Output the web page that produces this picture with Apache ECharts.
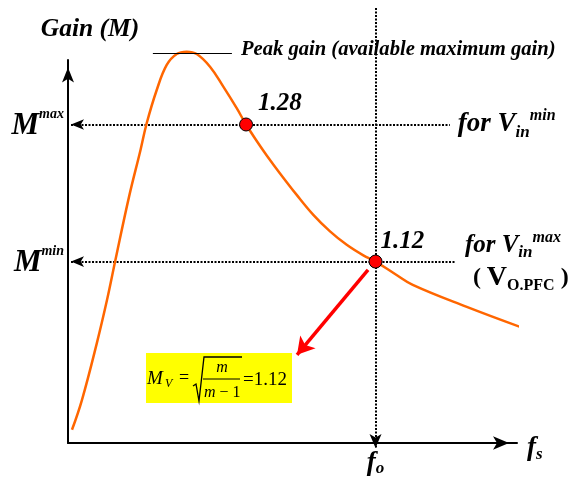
<!DOCTYPE html>
<html><head><meta charset="utf-8">
<script src="https://cdn.jsdelivr.net/npm/echarts@6/dist/echarts.min.js"></script>
<style>html,body{margin:0;padding:0;background:#fff}#c{width:574px;height:477px}</style>
</head><body><div id="c"></div>
<script>
// Normalized switching frequency (fs / fo) and gain M of the resonant tank curve
const curveX    = [0.013, 0.0455, 0.094, 0.127, 0.153, 0.1984, 0.2358, 0.2559, 0.2885, 0.321, 0.3535, 0.386, 0.4185, 0.4618, 0.505, 0.5486, 0.579, 0.6137, 0.6462, 0.6894, 0.7437, 0.7977, 0.852, 0.9063, 0.9603, 1.0, 1.0634, 1.121, 1.2967, 1.4787];
const curveGain = [0.9236, 0.9586, 1.0251, 1.0753, 1.1197, 1.1955, 1.2503, 1.2815, 1.3203, 1.3495, 1.3623, 1.365, 1.3623, 1.3475, 1.3242, 1.299, 1.28, 1.2608, 1.2439, 1.2229, 1.1978, 1.1745, 1.1552, 1.1395, 1.1272, 1.12, 1.1055, 1.0928, 1.0671, 1.0426];
// Operating points: Mmax (Vin min) and Mmin (Vin max) at fo
const pointX    = [0.579, 1.0];
const pointGain = [1.28, 1.12];
const pointText = ['1.28', '1.12'];
// Peak gain reference
const peakGain  = 1.3635;
const peakSpan  = [0.276, 0.533];
// Guide line extents
const guideStart  = 0.0098;
const guideEnd    = [1.2415, 1.258];
const foValue     = 1.0;
const axisRangeX  = [0, 1.46];
const axisRangeY  = [0.9, 1.355];
const plotTopY    = 1.416;
const foArrowEnd  = 0.9023;
// Red pointer from the fo point to the formula
const pointerFrom = [0.9756, 1.1103];
const pointerTo   = [0.7447, 1.0111];

const SERIF = '"Liberation Serif", "Times New Roman", serif';
const bi = (size, extra) => Object.assign({fontFamily: SERIF, fontSize: size, fontWeight: 'bold', fontStyle: 'italic', color: '#000'}, extra || {});

const chart = echarts.init(document.getElementById('c'), null, {renderer: 'canvas'});

const dotted = {color: '#000', width: 2, type: [2, 1.5]};
const invisible = {color: 'rgba(0,0,0,0)', width: 0};

const markRich = {
  M: bi(31, {lineHeight: 34, verticalAlign: 'bottom'}),
  sup: bi(14, {lineHeight: 18, verticalAlign: 'top'})
};
const forRich = {
  a: bi(27, {lineHeight: 34}),
  sub: bi(17, {lineHeight: 20, verticalAlign: 'bottom'}),
  sup: bi(16, {lineHeight: 16, verticalAlign: 'top'}),
  a2: bi(25, {lineHeight: 32}),
  sp: {width: 8, lineHeight: 32},
  p: {fontFamily: SERIF, fontSize: 24, fontWeight: 'bold', color: '#000', lineHeight: 32},
  V: {fontFamily: SERIF, fontSize: 28, fontWeight: 'bold', color: '#000', lineHeight: 32},
  sub2: {fontFamily: SERIF, fontSize: 16, fontWeight: 'bold', color: '#000', lineHeight: 18, verticalAlign: 'bottom'}
};

const option = {
  animation: false,
  backgroundColor: '#fff',
  grid: [
    {left: 68, right: 57, top: 8, bottom: 27},
    {left: 68, right: 57, top: 60, bottom: 27}
  ],
  xAxis: [
    {gridIndex: 0, type: 'value', min: axisRangeX[0], max: axisRangeX[1], show: false},
    {gridIndex: 1, type: 'value', min: axisRangeX[0], max: axisRangeX[1],
     axisLine: {show: true, symbol: ['none', 'arrow'], symbolSize: [10, 16], symbolOffset: [0, -8], lineStyle: {color: '#000', width: 2}},
     axisTick: {show: false}, splitLine: {show: false},
     axisLabel: {customValues: [foValue], margin: 6, formatter: () => '{f|f}{o|o}',
       rich: {f: bi(27, {lineHeight: 28}), o: bi(17, {lineHeight: 16, verticalAlign: 'bottom'})}},
     name: '{f|f}{s|s}', nameLocation: 'end', nameGap: 10,
     nameTextStyle: {rich: {f: bi(27, {lineHeight: 30}), s: bi(17, {lineHeight: 18, verticalAlign: 'bottom'})}, padding: [10, 0, 0, 0]}
    }
  ],
  yAxis: [
    {gridIndex: 0, type: 'value', min: axisRangeY[0], max: plotTopY, show: false},
    {gridIndex: 1, type: 'value', min: axisRangeY[0], max: axisRangeY[1],
     axisLine: {show: true, symbol: ['none', 'arrow'], symbolSize: [9, 15], symbolOffset: [0, -7.5], lineStyle: {color: '#000', width: 2}},
     axisTick: {show: false}, splitLine: {show: false}, axisLabel: {show: false},
     name: 'Gain (M)', nameLocation: 'end', nameGap: 18,
     nameTextStyle: Object.assign(bi(25.5), {padding: [0, 0, 0, 44]})
    }
  ],
  series: [
    {
      type: 'line', name: 'Gain', xAxisIndex: 0, yAxisIndex: 0,
      data: curveX.map((x, i) => [x, curveGain[i]]),
      smooth: 0.4, showSymbol: false, symbol: 'none', clip: false, silent: true,
      lineStyle: {color: '#FF6600', width: 2.5},
      z: 3,
      markLine: {
        silent: true, animation: false, symbol: ['none', 'none'],
        label: {show: false},
        data: [
          [{coord: [peakSpan[0], peakGain], lineStyle: {color: '#000', width: 1, type: 'solid'},
            label: {show: true, position: 'end', distance: 9, offset: [0, -3], formatter: 'Peak gain (available maximum gain)', ...bi(20.6)}},
           {coord: [peakSpan[1], peakGain]}]
        ]
      }
    },
    {
      type: 'scatter', name: 'Operating points', xAxisIndex: 0, yAxisIndex: 0,
      data: pointX.map((x, i) => ({value: [x, pointGain[i]],
        label: {show: true, position: 'right', distance: i === 0 ? 5 : 0, offset: i === 0 ? [0, -21] : [-2, -20], formatter: pointText[i], ...bi(25)}})),
      symbol: 'circle', symbolSize: 13, clip: false, silent: true, z: 5,
      itemStyle: {color: '#FF0000', borderColor: '#000', borderWidth: 1, opacity: 1},
      markLine: {
        silent: true, animation: false, symbol: ['none', 'none'], z: 2,
        label: {show: false},
        data: [
          // Mmax guide with arrow to the gain axis
          [{coord: [guideStart, pointGain[0]], symbol: 'arrow', symbolSize: [8, 13], lineStyle: dotted,
            label: {show: true, position: 'start', distance: 7, formatter: '{M|M}{sup|max}', rich: markRich}},
           {coord: [guideEnd[0], pointGain[0]]}],
          [{coord: [guideStart, pointGain[0]], lineStyle: invisible,
            label: {show: true, position: 'end', distance: 8, formatter: '{a|for V}{sub|in}{sup|min}', rich: forRich}},
           {coord: [guideEnd[0], pointGain[0]]}],
          // Mmin guide
          [{coord: [guideStart, pointGain[1]], symbol: 'arrow', symbolSize: [8, 13], lineStyle: dotted,
            label: {show: true, position: 'start', distance: 7, formatter: '{M|M}{sup|min}', rich: markRich}},
           {coord: [guideEnd[1], pointGain[1]]}],
          [{coord: [guideStart, pointGain[1]], lineStyle: invisible,
            label: {show: true, position: 'end', distance: 10,
              formatter: '{a2|for V}{sub|in}{sup|max}\n{sp|}{p|( }{V|V}{sub2|O.PFC}{p| )}', rich: forRich}},
           {coord: [guideEnd[1], pointGain[1]]}],
          // fo guide down to the frequency axis
          [{coord: [foValue, plotTopY], lineStyle: dotted},
           {coord: [foValue, foArrowEnd], symbol: 'arrow', symbolSize: [9, 14]}],
          // red pointer
          [{coord: pointerFrom, lineStyle: {color: '#FF0000', width: 3.5, type: 'solid'}},
           {coord: pointerTo, symbol: 'arrow', symbolSize: [15, 17]}]
        ]
      }
    }
  ],
  graphic: [
    {type: 'group', left: 146, top: 353, children: [
      {type: 'rect', shape: {x: 0, y: 0, width: 146, height: 50}, style: {fill: '#FFFF00'}},
      {type: 'text', x: 1, y: 26, style: {text: 'M', font: 'italic 19px ' + SERIF, fill: '#000', verticalAlign: 'middle'}},
      {type: 'text', x: 19, y: 31, style: {text: 'V', font: 'italic 12px ' + SERIF, fill: '#000', verticalAlign: 'middle'}},
      {type: 'text', x: 33, y: 25, style: {text: '=', font: '18px ' + SERIF, fill: '#000', verticalAlign: 'middle'}},
      {type: 'polyline', shape: {points: [[47, 33], [50, 31], [53, 48], [58, 4], [96, 4]]}, style: {stroke: '#000', lineWidth: 1.3, fill: null}},
      {type: 'text', x: 76, y: 15, style: {text: 'm', font: 'italic 16px ' + SERIF, fill: '#000', align: 'center', verticalAlign: 'middle'}},
      {type: 'line', shape: {x1: 57, y1: 26, x2: 94, y2: 26}, style: {stroke: '#000', lineWidth: 1}},
      {type: 'text', x: 58, y: 40, style: {text: '{i|m}{n| − 1}', rich: {i: {font: 'italic 16px ' + SERIF, fill: '#000'}, n: {font: '16px ' + SERIF, fill: '#000'}}, verticalAlign: 'middle'}},
      {type: 'text', x: 97, y: 27, style: {text: '=1.12', font: '19px ' + SERIF, fill: '#000', verticalAlign: 'middle'}}
    ]}
  ]
};
chart.setOption(option);
</script>
</body></html>
